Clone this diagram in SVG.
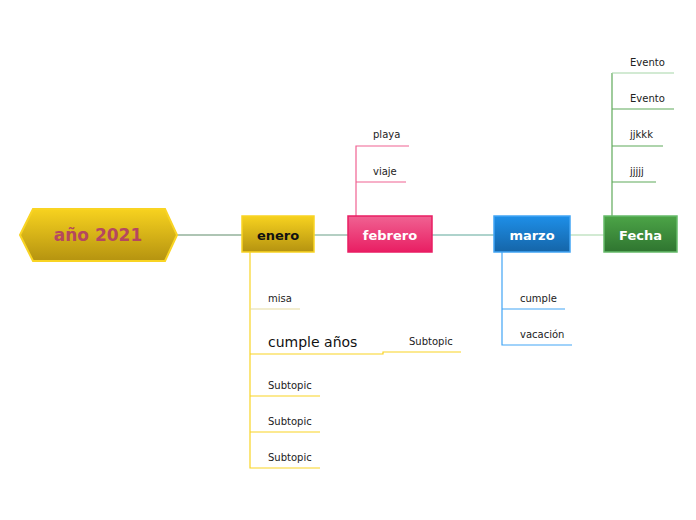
<svg xmlns="http://www.w3.org/2000/svg" width="696" height="520" viewBox="0 0 696 520">
<defs>
<linearGradient id="gY" x1="0" y1="0" x2="0" y2="1"><stop offset="0" stop-color="#f7d21f"/><stop offset="1" stop-color="#b59310"/></linearGradient>
<linearGradient id="gP" x1="0" y1="0" x2="0" y2="1"><stop offset="0" stop-color="#f06292"/><stop offset="1" stop-color="#e91e63"/></linearGradient>
<linearGradient id="gB" x1="0" y1="0" x2="0" y2="1"><stop offset="0" stop-color="#1e8fe8"/><stop offset="1" stop-color="#1565a8"/></linearGradient>
<linearGradient id="gG" x1="0" y1="0" x2="0" y2="1"><stop offset="0" stop-color="#4ca447"/><stop offset="1" stop-color="#2f7530"/></linearGradient>
<style>
text{font-family:"DejaVu Sans",Verdana,sans-serif;}
.t{font-size:10px;fill:#222;}
.n{font-size:13px;font-weight:bold;text-anchor:middle;}
.c{fill:none;stroke-width:1.2;}
.y{stroke:#f9d423;}
.p{stroke:#f06292;}
.b{stroke:#42a5f5;}
.g{stroke:#5faa5a;}
</style>
</defs>
<g id="connectors">
<line class="c" x1="177" y1="235" x2="242" y2="235" stroke="#5e8c6a" stroke-width="1.5"/>
<line class="c" x1="314" y1="235" x2="348" y2="235" stroke="#6a9f88" stroke-width="1.5"/>
<line class="c" x1="432" y1="235" x2="494" y2="235" stroke="#5fa89a" stroke-width="1.5"/>
<line class="c" x1="570" y1="235" x2="604" y2="235" stroke="#a5d6a7" stroke-width="1.5"/>
<path class="c p" d="M356 216V146H409M356 182H406"/>
<path class="c g" d="M612 216V73M612 109H674M612 146H663M612 182H656"/>
<path class="c" stroke="#a5d6a7" d="M612 73H674"/>
<path class="c y" d="M250 252V468H320M250 432H320M250 396H320M250 354H383V352H461"/>
<path class="c" stroke="#e6dca0" d="M250 309H300"/>
<path class="c b" d="M502 252V345H572M502 309H565"/>
</g>
<g id="central">
<polygon points="20,235 33,209 165,209 177,235 165,261 33,261" fill="url(#gY)" stroke="#f9d423" stroke-width="2"/>
<text x="98" y="241" text-anchor="middle" font-size="17" font-weight="bold" fill="#b5485f">año 2021</text>
</g>
<g id="enero">
<rect x="242" y="216" width="72" height="36" fill="url(#gY)" stroke="#f9d423" stroke-width="1.5"/>
<text class="n" x="278" y="240" fill="#111">enero</text>
</g>
<g id="febrero">
<rect x="348" y="216" width="84" height="36" fill="url(#gP)" stroke="#e91e63" stroke-width="1.5"/>
<text class="n" x="390" y="240" fill="#fff">febrero</text>
</g>
<g id="marzo">
<rect x="494" y="216" width="76" height="36" fill="url(#gB)" stroke="#42a5f5" stroke-width="1.5"/>
<text class="n" x="532" y="240" fill="#fff">marzo</text>
</g>
<g id="fecha">
<rect x="604" y="216" width="73" height="36" fill="url(#gG)" stroke="#66bb6a" stroke-width="1.5"/>
<text class="n" x="640.500" y="240" fill="#fff">Fecha</text>
</g>
<g id="playa"><text class="t" x="373" y="138">playa</text></g>
<g id="viaje"><text class="t" x="373" y="175">viaje</text></g>
<g id="evento1"><text class="t" x="630" y="66">Evento</text></g>
<g id="evento2"><text class="t" x="630" y="102">Evento</text></g>
<g id="jjkkk"><text class="t" x="630" y="138">jjkkk</text></g>
<g id="jjjjj"><text class="t" x="630" y="175">jjjjj</text></g>
<g id="misa"><text class="t" x="268" y="302">misa</text></g>
<g id="cumpleanos"><text x="268" y="347" font-size="14" fill="#111">cumple años</text></g>
<g id="subtopic0"><text class="t" x="409" y="345">Subtopic</text></g>
<g id="subtopic1"><text class="t" x="268" y="389">Subtopic</text></g>
<g id="subtopic2"><text class="t" x="268" y="425">Subtopic</text></g>
<g id="subtopic3"><text class="t" x="268" y="461">Subtopic</text></g>
<g id="cumple"><text class="t" x="520" y="302">cumple</text></g>
<g id="vacacion"><text class="t" x="520" y="338">vacación</text></g>
</svg>
